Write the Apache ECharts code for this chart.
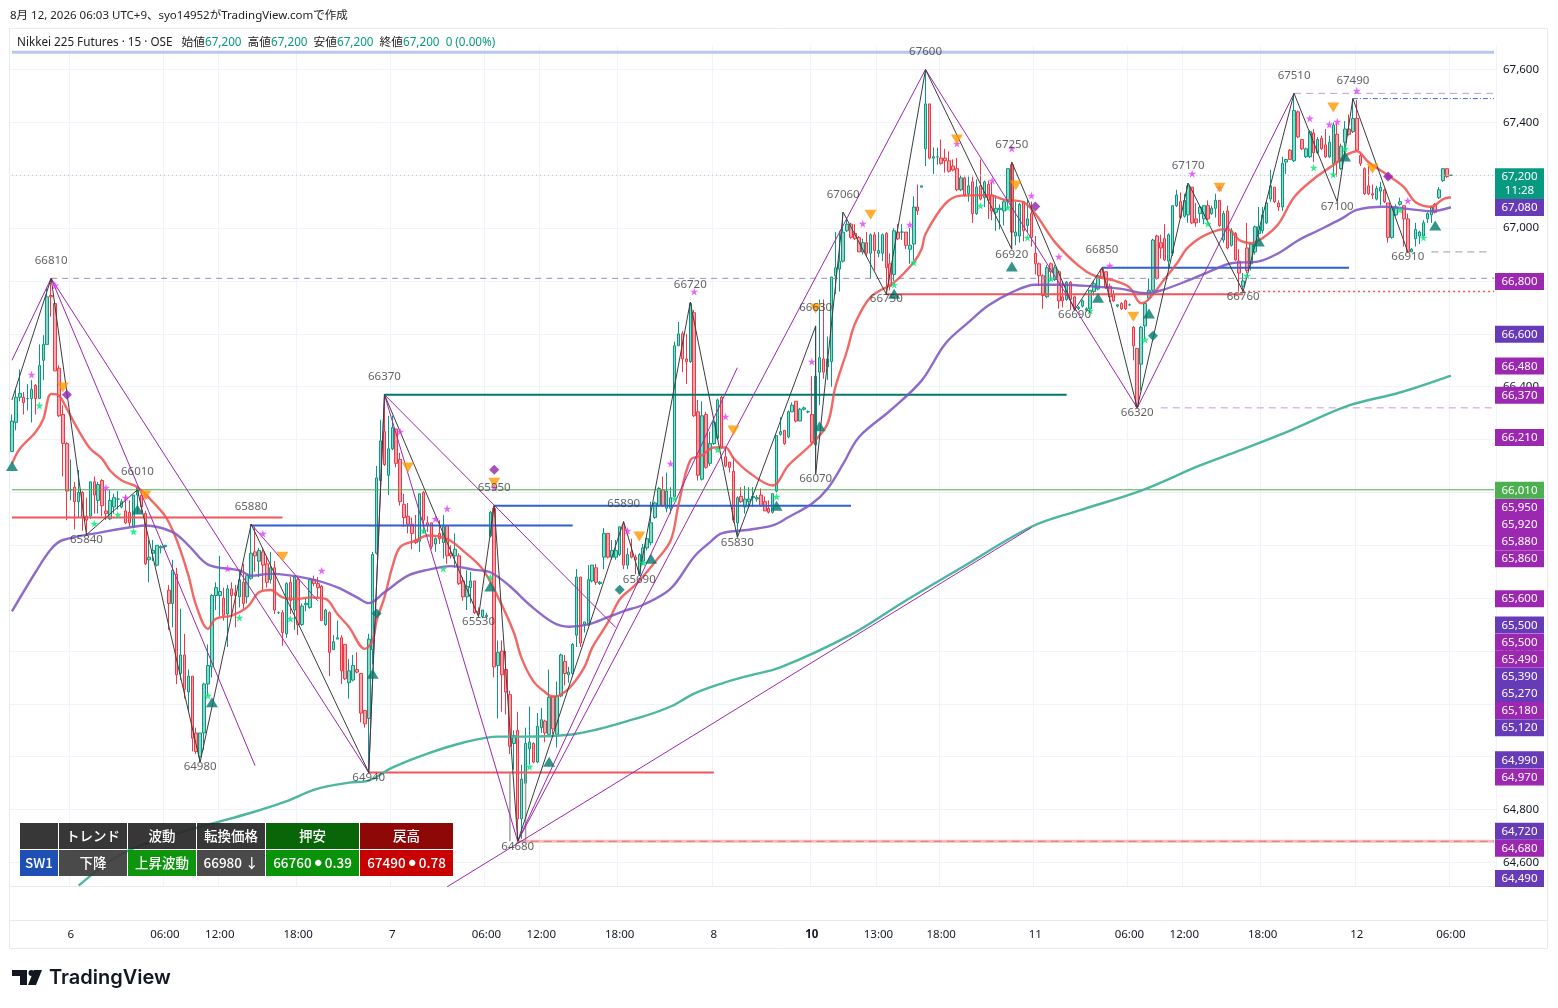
<!DOCTYPE html>
<html><head><meta charset="utf-8">
<style>html,body{margin:0;padding:0;background:#fff}#c{width:1558px;height:1008px}</style>
<script src="https://cdn.jsdelivr.net/npm/echarts@6/dist/echarts.min.js"></script>
</head><body><div id="c"></div>
<script>
// candles: [open, close, low, high]
const candlesDay6=[
[66155,66270,66155,66295],[66265,66360,66235,66390],[66360,66375,66345,66465],[66360,66340,66295,66380],[66355,66355,66310,66410],[66355,66390,66265,66425],[66405,66355,66295,66410],[66355,66480,66355,66560],[66500,66560,66425,66595],[66560,66740,66560,66775],
[66745,66740,66665,66810],[66715,66460,66460,66725],[66470,66290,66285,66480],[66295,66185,66060,66330],[66185,66005,65895,66190],[66010,66010,65970,66125],[66020,65965,65860,66040],[65965,66000,65905,66085],[66000,65905,65855,66005],[65910,65895,65840,65980],
[65910,66040,65900,66040],[66040,65990,65920,66060],[65970,66030,65920,66040],[66045,65950,65910,66050],[65930,65920,65895,66010],[65900,65970,65895,66010],[65945,65980,65920,65995],[65975,65975,65935,66005],[65945,65965,65940,65975],[65930,65885,65880,65990],
[65925,65885,65870,65970],[65870,65990,65870,65990],[65990,66020,65920,66025],[65990,65945,65920,66010],[65920,65730,65725,65930],[65745,65755,65660,65820],[65770,65780,65740,65820],[65725,65800,65720,65800],[65790,65795,65770,65800],[65795,65800,65785,65800],
[65630,65580,65480,65650],[65580,65705,65490,65745],[65690,65310,65275,65715],[65315,65385,65290,65560],[65385,65255,65220,65465],[65245,65305,65170,65330],[65305,65070,65020,65305],[65090,65020,65010,65110],[65000,65090,64980,65090],[65090,65275,65025,65280],
[65275,65345,65230,65425],[65340,65610,65300,65615],[65610,65640,65555,65660],[65610,65625,65530,65760],[65600,65535,65515,65640],[65540,65635,65415,65650],[65635,65610,65535,65660],[65620,65610,65490,65650],[65605,65670,65565,65705],[65660,65580,65560,65730],
[65605,65685,65580,65685],[65675,65770,65670,65880],[65775,65760,65700,65870],[65740,65780,65680,65790],[65775,65725,65630,65790],[65730,65660,65640,65755],[65670,65715,65655,65775],[65715,65555,65540,65740],[65545,65545,65540,65550],[65545,65470,65420,65555],
[65465,65655,65450,65660],[65660,65590,65540,65680],[65555,65680,65480,65685],[65670,65500,65460,65680],[65500,65570,65495,65580],[65575,65580,65550,65600],[65565,65670,65560,65675],[65670,65655,65645,65685],[65655,65640,65600,65680],[65645,65515,65515,65650],
[65500,65555,65495,65560],[65545,65395,65305,65550],[65405,65435,65405,65460],[65445,65450,65445,65515],[65450,65325,65275,65460],[65425,65295,65290,65425],[65280,65325,65220,65370],[65290,65345,65285,65385],[65330,65320,65315,65395],[65315,65165,65130,65315],
[65175,65125,65110,65175],[65145,65445,64940,65465],[65405,65765,65350,65775],[65770,66055,65765,66100],[66045,66195,65990,66275],[66230,66105,66100,66370],[66065,66165,65990,66290]];
const candlesDay7=[
[66165,66245,66160,66290],[66240,66110,66095,66240],[66125,65965,65950,66150],[65955,65905,65870,65995],[65910,65880,65845,65960],[65880,65845,65785,65905],[65820,65810,65805,65915],[65815,65995,65775,65995],[66000,65895,65845,66005],[65885,65875,65850,65910],
[65885,65795,65785,65885],[65805,65825,65775,65830],[65845,65825,65805,65895],[65810,65870,65750,65915],[65875,65760,65730,65875],[65770,65760,65750,65800],[65760,65785,65715,65845],[65760,65655,65650,65770],[65665,65605,65590,65680],[65605,65645,65555,65705],
[65640,65665,65580,65700],[65665,65545,65540,65665],[65550,65540,65530,65565],[65530,65555,65525,65555],[65530,65535,65525,65545],[65835,65925,65830,65930],[65940,65340,65300,65950],[65345,65395,65145,65440],[65400,65310,65170,65440],[65330,65245,65160,65400],
[65235,65040,65010,65250],[65050,65080,64950,65100],[65100,64765,64680,65170],[64765,64915,64690,64970],[64900,65050,64820,65110],[65030,65055,64970,65190],[65050,64980,64975,65055],[64980,65115,64975,65165],[65110,65140,65090,65185],[65135,65090,65055,65140],
[65085,65225,65075,65330],[65230,65105,65085,65230],[65085,65230,65035,65285],[65230,65385,65225,65390],[65360,65315,65270,65385],[65310,65320,65280,65340],[65315,65425,65310,65430],[65460,65680,65415,65710],[65680,65430,65415,65680],[65500,65510,65470,65510],
[65500,65670,65495,65725],[65665,65725,65660,65725],[65715,65660,65650,65730],[65655,65660,65650,65665],[65755,65845,65710,65865],[65845,65755,65750,65845],[65755,65780,65745,65820],[65755,65780,65745,65820],[65765,65870,65760,65870],[65880,65725,65710,65890],
[65725,65765,65710,65790],[65775,65755,65750,65825],[65755,65745,65690,65765],[65690,65765,65685,65770],[65740,65790,65730,65805],[65790,65825,65780,65830],[65810,65885,65800,65965],[65905,65960,65900,65965],[65950,66015,65945,66020],[66010,65950,65945,66060],
[65940,66005,65925,66075],[65940,65980,65920,66020],[65985,66555,65980,66570],[66555,66600,66555,66645],[66600,66505,66455,66610],[66505,66495,66410,66600],[66495,66715,66490,66720],[66680,66290,66285,66690],[66305,66065,66045,66350],[66050,66290,66045,66345],
[66295,66095,66090,66305],[66110,66185,66100,66230]];
const candlesDay8=[
[66185,66265,66180,66270],[66205,66350,66200,66355],[66360,66170,66165,66365],[66135,66100,66095,66170],[66115,66095,66075,66115],[66080,65895,65885,66135],[65885,65980,65830,65985],[65985,65965,65960,66020],[65945,65975,65920,66025],[65965,65975,65940,66020],
[65980,65985,65945,66020],[65975,65980,65965,65990],[65990,65950,65945,66015],[65965,65930,65930,65985],[65940,65925,65920,65970],[65925,65995,65920,65995],[66005,66215,66000,66215],[66220,66230,66215,66285],[66235,66185,66180,66235],[66210,66305,66205,66310],
[66305,66330,66305,66340],[66345,66270,66265,66345],[66270,66315,66270,66320],[66315,66320,66310,66325],[66305,66305,66300,66310]];
const candlesDay10=[
[66295,66190,66180,66440],[66180,66440,66070,66630],[66455,66510,66330,66730],[66505,66455,66430,66730],[66475,66505,66425,66590],[66495,66815,66400,66815],[66820,66850,66750,66985],[66845,66875,66760,66990],[66875,66985,66870,67060],[66990,67015,66985,67040],
[67015,66965,66960,67020],[66980,66960,66955,67015],[66965,66910,66910,66970],[66910,66945,66900,66960],[66945,66905,66890,66985],[66905,66975,66810,66980],[66975,66915,66840,66985],[66905,66915,66890,66985],[66905,66975,66875,66980],[66980,66850,66750,66985],
[66865,66780,66765,66905],[66825,66990,66800,67000],[66985,66960,66955,67015],[66985,66985,66955,67015],[66985,66935,66920,66985],[66920,66935,66865,67000],[66940,67080,66880,67120],[67080,67065,67050,67165],[67155,67160,67155,67160],[67300,67470,67235,67600],
[67470,67265,67260,67470],[67265,67270,67205,67305],[67270,67270,67240,67305],[67265,67245,67240,67335],[67265,67255,67210,67300],[67255,67215,67210,67290],[67235,67220,67215,67260],[67225,67145,67140,67265],[67145,67190,67140,67200],[67190,67125,67120,67195],
[67130,67160,67100,67195],[67175,67055,67020,67195],[67055,67155,67050,67185],[67160,67110,67105,67260],[67115,67175,67080,67180],[67165,67105,67035,67180],[67125,67065,67030,67175],[67060,67075,66990,67125],[67070,67075,66995,67090],[67065,67100,67010,67110],
[67100,67225,67075,67225],[67240,66985,66920,67245],[66970,66985,66935,67100],[66970,67090,66945,67095],[67100,66990,66950,67100],[67010,67035,66985,67110],[67055,66965,66930,67100]];
const candlesDay11=[
[66905,66865,66825,66970],[66865,66820,66780,66870],[66820,66745,66695,66825],[66740,66850,66735,66860],[66865,66835,66800,66870],[66805,66850,66800,66860],[66835,66725,66695,66840],[66740,66725,66700,66800],[66730,66795,66725,66800],[66795,66730,66690,66800],
[66740,66695,66690,66745],[66695,66700,66690,66705],[66705,66725,66700,66730],[66690,66695,66685,66700],[66695,66765,66690,66765],[66760,66790,66745,66800],[66770,66820,66765,66825],[66845,66815,66810,66850],[66835,66775,66770,66835],[66780,66740,66720,66790],
[66750,66725,66720,66765],[66705,66710,66700,66710],[66715,66695,66690,66720],[66725,66695,66690,66730],[66710,66710,66705,66715],[66625,66555,66500,66630],[66545,66325,66320,66545],[66485,66625,66385,66630],[66630,66715,66580,66720],[66735,66765,66725,66810],
[66765,66955,66760,66960],[66970,66810,66805,66975],[66945,66925,66885,66975],[66960,66880,66875,67015],[66875,66975,66850,66980],[66905,67085,66895,67085],[67085,67125,67080,67145],[67100,67040,67035,67135],[67045,67105,67040,67130],[67050,67160,67020,67170],
[67155,67020,67015,67155],[67035,67020,67005,67095],[67055,67080,67020,67085],[67035,67085,67015,67085],[67085,67035,67030,67105],[67055,67075,67050,67085],[67075,67105,67040,67130],[67105,67010,67005,67105],[66955,67055,66945,67065],[67065,66925,66920,67085],
[66935,66990,66930,67000],[66980,66880,66875,66985],[66875,66830,66760,66920],[66780,66800,66760,66830],[66925,66840,66830,67020],[66865,66940,66840,66945],[66910,67005,66900,67010],[66980,67005,66960,67080],[66990,67050,66980,67080],[67020,67095,67015,67100],
[67110,67160,67100,67220],[67155,67100,67095,67155],[67095,67080,67065,67105],[67080,67245,67065,67270],[67250,67260,67205,67260],[67295,67260,67260,67300],[67255,67445,67250,67510],[67440,67345,67340,67445],[67335,67300,67295,67335],[67270,67300,67265,67305],
[67270,67365,67265,67370],[67360,67285,67250,67375],[67285,67335,67280,67345],[67340,67300,67295,67350],[67315,67270,67265,67375],[67270,67325,67265,67350],[67245,67390,67195,67400],[67355,67250,67195,67395],[67225,67310,67220,67320],[67325,67375,67260,67405],
[67375,67355,67350,67430],[67365,67415,67360,67490]];
const candlesDay12=[
[67415,67295,67290,67485],[67275,67245,67235,67285],[67225,67130,67125,67230],[67160,67130,67125,67235],[67130,67125,67110,67165],[67110,67150,67105,67160],[67140,67155,67085,67175],[67145,67100,67095,67150],[67095,66965,66945,67095],[66965,67080,66960,67085],
[67050,67080,67045,67090],[67090,67100,67085,67115],[67085,67035,66930,67085],[67035,66910,66910,67055],[66910,66920,66910,66925],[66960,66995,66930,67020],[66970,66985,66940,66990],[66970,67020,66965,67030],[67035,67055,67020,67060],[67050,67080,67020,67085],
[67090,67060,67055,67095],[67115,67145,67110,67155],[67180,67225,67175,67225],[67225,67195,67190,67225],[67200,67200,67200,67200]];
const candles=[].concat(candlesDay6,candlesDay7,candlesDay8,candlesDay10,candlesDay11,candlesDay12);

const barSlots=379;
const xTickIdx=[15,39,53,73,97,121,135,155,179,204,221,237,261,285,299,319,343,367];
const xTickLabels=['6','06:00','12:00','18:00','7','06:00','12:00','18:00','8','10','13:00','18:00','11','06:00','12:00','18:00','12','06:00'];
const yTicks=[64600,64800,65000,65200,65400,65600,65800,66000,66200,66400,66600,66800,67000,67200,67400,67600];

const emaRed=[[0,66108],[2,66165],[6,66228],[8,66278],[10,66373],[12,66366],[14,66316],[17,66234],[20,66165],[23,66127],[25,66083],[28,66045],[32,66020],[36,65963],[39,65912],[41,65856],[43,65780],[45,65686],[47,65572],[50,65484],[52,65522],[56,65534],[60,65566],[63,65622],[66,65631],[69,65603],[73,65597],[76,65603],[80,65597],[83,65540],[86,65490],[90,65408],[92,65440],[93,65515],[95,65603],[97,65717],[99,65793],[103,65818],[106,65837],[111,65824],[115,65780],[120,65710],[124,65603],[128,65470],[130,65372],[133,65285],[136,65244],[138,65227],[142,65258],[146,65339],[148,65413],[152,65508],[155,65595],[159,65650],[164,65737],[168,65818],[170,65953],[173,66122],[176,66140],[179,66170],[182,66170],[184,66130],[188,66075],[194,66026],[198,66102],[204,66184],[208,66260],[210,66398],[213,66537],[215,66638],[219,66739],[225,66795],[230,66871],[232,66921],[233,66978],[238,67092],[242,67123],[249,67125],[253,67108],[258,67098],[261,67054],[266,66947],[272,66858],[276,66820],[281,66802],[285,66776],[288,66716],[290,66732],[294,66808],[297,66864],[300,66928],[305,66978],[310,66997],[313,66955],[316,66943],[319,66963],[323,67016],[327,67117],[332,67186],[338,67249],[340,67274],[343,67291],[346,67249],[351,67199],[355,67155],[358,67098],[362,67081],[365,67110],[367,67117]];
const emaPurple=[[0,65550],[6,65698],[10,65786],[13,65820],[23,65850],[31,65870],[34,65875],[41,65850],[45,65800],[50,65727],[58,65705],[61,65685],[66,65692],[76,65673],[83,65641],[88,65603],[91,65581],[95,65622],[101,65685],[106,65707],[112,65721],[118,65707],[122,65698],[127,65645],[132,65575],[138,65508],[142,65492],[147,65501],[152,65528],[156,65551],[161,65575],[168,65636],[174,65757],[178,65811],[181,65845],[188,65859],[194,65875],[198,65906],[204,65957],[208,66014],[212,66108],[216,66209],[224,66310],[232,66423],[238,66562],[244,66644],[249,66707],[255,66757],[261,66786],[268,66786],[276,66779],[283,66770],[289,66754],[293,66764],[300,66802],[305,66833],[311,66867],[318,66874],[323,66905],[328,66953],[333,66990],[339,67035],[343,67069],[350,67081],[356,67073],[362,67064],[367,67079]];
const emaTeal=[[17,64512],[28,64633],[42,64709],[51,64747],[61,64788],[69,64826],[78,64879],[86,64902],[91,64910],[97,64959],[106,65012],[115,65053],[124,65076],[130,65076],[144,65087],[160,65148],[168,65190],[174,65239],[181,65277],[188,65307],[196,65338],[214,65462],[227,65582],[242,65714],[260,65870],[272,65931],[288,66007],[303,66102],[313,66158],[326,66234],[341,66329],[354,66378],[367,66442]];

const zigStart=[0,66350];
const zigPivots=[[10,66810],[19,65840],[32,66010],[48,64980],[61,65880],[91,64940],[95,66370],[119,65530],[123,65950],[129,64680],[156,65890],[160,65690],[173,66720],[185,65830],[205,66630],[205,66070],[212,67060],[223,66750],[233,67600],[255,66920],[255,67250],[271,66690],[278,66850],[287,66320],[300,67170],[314,66760],[327,67510],[338,67100],[342,67490],[356,66910]];

const trendSegments=[
[[0,66500],[10,66810]],[[10,66810],[91,64940]],[[10,66810],[62,64966]],[[61,65880],[78,65590]],[[91,64940],[95,66370]],
[[95,66370],[129,64680]],[[95,66370],[154,65489]],[[129,64680],[185,66472]],[[129,64680],[233,67600]],[[111,64508],[260,65867]],
[[233,67600],[287,66320]],[[287,66320],[327,67510]]];
const solidLevels=[
{v:67665,a:0,b:378,c:'#b9c8f0',w:3},{v:66010,a:0,b:378,c:'#4caf50',w:1},{v:65905,a:0,b:69,c:'#f0555a',w:2},{v:65875,a:61,b:143,c:'#2f5fd0',w:2},
{v:66370,a:95,b:269,c:'#00796b',w:2},{v:65950,a:123,b:214,c:'#2f5fd0',w:2},{v:64940,a:91,b:179,c:'#f0555a',w:2},{v:64680,a:129,b:378,c:'rgba(239,83,80,.4)',w:3},
{v:66850,a:278,b:341,c:'#2f5fd0',w:2},{v:66750,a:223,b:314,c:'#f0555a',w:2}];
const dashedLevels=[
{v:66810,a:10,b:378,c:'#9b8fb5',t:[6,5],w:1},{v:67200,a:0,b:378,c:'#b8bcc6',t:[1,3],w:1},{v:66320,a:293,b:378,c:'#c79ad6',t:[7,5],w:1},{v:67510,a:327,b:378,c:'#c79ad6',t:[7,5],w:1},
{v:67490,a:342,b:378,c:'#3f6bc8',t:[5,2,1,2],w:1},{v:66910,a:362,b:377,c:'#9e9e9e',t:[7,5],w:1},{v:66760,a:314,b:378,c:'#ef5350',t:[2,3],w:1.5},{v:64680,a:129,b:378,c:'#e57373',t:[8,5],w:1}];
const grayBars=[[[127,64680],[127,64940]],[[131,64680],[131,64940]]];

const pinkStars=[[5,66446],[11,66783],[24,66018],[29,65980],[34,65988],[55,65712],[64,65844],[79,65704],[99,66230],[108,65900],[111,65939],[123,66018],[157,65855],[168,66109],[174,66760],[182,66287],[204,66495],[217,67017],[229,67013],[241,67320],[250,67180],[255,67301],[260,67123],[267,66892],[280,66858],[301,67206],[308,67153],[331,67415],[336,67392],[338,67403],[343,67520],[351,67195],[356,67104]];
const greenStars=[[7,66329],[21,65882],[27,65916],[31,65852],[50,65231],[58,65526],[71,65522],[105,65855],[110,65712],[122,65678],[132,64962],[161,65734],[169,65977],[180,66162],[195,65984],[225,66786],[230,66870],[247,67085],[254,67078],[259,66964],[265,66809],[275,66688],[289,66578],[305,67017],[315,66820],[332,67229],[337,67203],[340,67301],[354,67070],[360,66964]];
const upTriangles=[[0,66100],[32,65935],[51,65206],[92,65314],[122,65644],[137,64981],[163,65749],[195,65950],[206,66250],[225,66752],[255,66855],[277,66737],[290,66677],[318,66949],[340,67271],[363,67010]];
const downTriangles=[[13,66397],[34,65988],[69,65757],[101,66094],[123,66037],[160,65833],[184,66234],[205,66696],[219,67051],[241,67335],[256,67161],[286,66665],[308,67153],[337,67456],[347,67225]];
const purpleDiamonds=[[14,66370],[123,66086],[261,67082],[351,67195]];
const tealDiamonds=[[93,65542],[155,65632],[291,66593]];

const tagValues=[67200,67080,66800,66600,66480,66370,66210,66010,65950,65920,65880,65860,65600,65500,65500,65490,65390,65270,65180,65120,64990,64970,64720,64680,64490];
const tagKinds=['last','v','m','v','m','m','m','g','m','m','m','m','m','v','m','m','v','v','m','v','v','m','v','m','v'];
const tagColors={last:'#089981',v:'#673ab7',m:'#9c27b0',g:'#4caf50'};
const countdown='11:28';

const tableHead=['','トレンド','波動','転換価格','押安','戻高'];
const tableRow=['SW1','下降','上昇波動','66980 ↓','66760 {d|●} 0.39','67490 {d|●} 0.78'];

const FONT='"Noto Sans","Noto Sans CJK JP",sans-serif';
const CJK='"Noto Sans CJK JP",sans-serif';
const UP='#089981',DOWN='#f23645';
const STAR='path://M50 0L61 35 98 35 68 57 79 91 50 70 21 91 32 57 2 35 39 35Z';

const chart=echarts.init(document.getElementById('c'),null,{renderer:'canvas'});
const lineBase={type:'line',showSymbol:false,symbol:'none',silent:true,animation:false};
const series=[];
series.push({type:'candlestick',data:candles,barWidth:3,silent:true,z:3,animation:false,
  itemStyle:{color:'#8fd6c6',color0:'#f6a5ad',borderColor:UP,borderColor0:DOWN,borderColorDoji:UP,borderWidth:1}});
for(const l of solidLevels) series.push({...lineBase,z:4,data:[[l.a,l.v],[l.b,l.v]],lineStyle:{color:l.c,width:l.w}});
for(const l of dashedLevels) series.push({...lineBase,z:4,data:[[l.a,l.v],[l.b,l.v]],lineStyle:{color:l.c,width:l.w,type:l.t}});
for(const g of grayBars) series.push({...lineBase,z:4,data:g,lineStyle:{color:'#9e9e9e',width:1.5}});
series.push({...lineBase,z:5,smooth:.35,data:emaRed,lineStyle:{color:'#ef5350',width:2.4,opacity:.88}});
series.push({...lineBase,z:5,smooth:.35,data:emaPurple,lineStyle:{color:'#7e57c2',width:2.4,opacity:.88}});
series.push({...lineBase,z:5,smooth:.35,data:emaTeal,lineStyle:{color:'#4db6a0',width:2.4}});
for(const s of trendSegments) series.push({...lineBase,z:6,data:s,lineStyle:{color:'#9c27b0',width:1}});
series.push({...lineBase,z:6,data:[zigStart].concat(zigPivots),lineStyle:{color:'#3c3c3c',width:1}});
const mark=(data,symbol,size,color,z)=>({type:'scatter',data,symbol,symbolSize:size,silent:true,animation:false,z:z||7,itemStyle:{color}});
series.push(mark(pinkStars,STAR,8,'#e040fb'));
series.push(mark(greenStars,STAR,8,'#00e676'));
series.push(mark(upTriangles,'triangle',[12,10],'#00796b'));
series.push(mark(downTriangles.map(p=>({value:p,symbolRotate:180})),'triangle',[12,10],'#ff9800'));
series.push(mark(purpleDiamonds,'diamond',10,'#8e24aa'));
series.push(mark(tealDiamonds,'diamond',10,'#00796b'));
// pivot labels
series.push({type:'scatter',symbol:'circle',symbolSize:0.1,silent:true,animation:false,z:8,itemStyle:{color:'transparent'},
  data:zigPivots.map((p,k)=>{
    const prev=k?zigPivots[k-1][1]:zigStart[1];const high=p[1]>prev;
    return {value:p,label:{show:true,formatter:String(p[1]),position:high?'top':'inside',distance:12,offset:high?[0,0]:[0,5],
      fontFamily:FONT,fontSize:11.5,color:'#3a3a3a'}};
  })});
// price tags at the right edge
let tagY=null;
function computeTagY(api){
  const h=17.1,ys=tagValues.map(v=>api.coord([0,v])[1]);
  for(let k=1;k<ys.length;k++) ys[k]=Math.max(ys[k],ys[k-1]+h+(k===1?14:0));
  const maxY=878; if(ys[ys.length-1]>maxY) ys[ys.length-1]=maxY;
  return ys;
}
series.push({type:'custom',clip:false,silent:true,animation:false,z:20,
  data:tagValues.map((v,k)=>[k,v]),encode:{x:0,y:1},
  renderItem(params,api){
    if(!tagY||params.dataIndex===0) tagY=computeTagY(api);
    const k=params.dataIndex,y=tagY[k],left=1495,w=49,txt=tagValues[k].toLocaleString('en-US'),kind=tagKinds[k];
    const fill=tagColors[kind];
    const font='11.5px '+FONT;
    if(kind==='last'){
      return {type:'group',children:[
        {type:'rect',shape:{x:left,y:y-7,width:w,height:32},style:{fill}},
        {type:'text',style:{text:txt,x:left+w/2,y:y+1.5,align:'center',verticalAlign:'middle',fill:'#fff',font}},
        {type:'text',style:{text:countdown,x:left+w/2,y:y+15.5,align:'center',verticalAlign:'middle',fill:'#fff',font}}]};
    }
    return {type:'group',children:[
      {type:'rect',shape:{x:left,y:y-8,width:w,height:17},style:{fill}},
      {type:'text',style:{text:txt,x:left+w/2,y:y+1,align:'center',verticalAlign:'middle',fill:'#fff',font}}]};
  }});

// static page furniture
const g=[];
const frame='#e9eaee';
g.push({type:'rect',z:1,shape:{x:9.5,y:28.5,width:1538,height:920},style:{fill:'none',stroke:frame,lineWidth:1}});
g.push({type:'line',z:1,shape:{x1:10,y1:886.5,x2:1496,y2:886.5},style:{stroke:frame,lineWidth:1}});
g.push({type:'line',z:1,shape:{x1:10,y1:920.5,x2:1548,y2:920.5},style:{stroke:frame,lineWidth:1}});
g.push({type:'text',z:30,x:10,y:10,style:{text:'8月 12, 2026 06:03 UTC+9、syo14952がTradingView.comで作成',font:'11.5px '+FONT,fill:'#222'}});
g.push({type:'text',z:30,x:17,y:37,style:{
  text:'Nikkei 225 Futures · 15 · OSE   始値{g|67,200}  高値{g|67,200}  安値{g|67,200}  終値{g|67,200}  {g|0 (0.00%)}',
  font:'11.7px '+FONT,fill:'#222',rich:{g:{fill:'#089981',font:'11.7px '+FONT}}}});
// table
const colX=[20,59,128,197,266,360],colW=[38,68,68,68,93,93];
const headFill=['rgba(40,40,40,.93)','rgba(40,40,40,.93)','rgba(40,40,40,.93)','rgba(40,40,40,.93)','rgba(0,96,0,.97)','rgba(139,0,0,.97)'];
const rowFill=['#1e4fb5','rgba(60,60,60,.93)','rgba(0,144,0,.95)','rgba(60,60,60,.93)','rgba(0,144,0,.97)','#c80000'];
for(let c=0;c<6;c++){
  g.push({type:'rect',z:25,shape:{x:colX[c],y:823,width:colW[c],height:26},style:{fill:headFill[c]}});
  g.push({type:'rect',z:25,shape:{x:colX[c],y:850,width:colW[c],height:26},style:{fill:rowFill[c]}});
  g.push({type:'text',z:26,x:colX[c]+colW[c]/2,y:835.5,style:{text:tableHead[c],fill:'#fff',font:'500 13.5px '+CJK,align:'center',verticalAlign:'middle'}});
  g.push({type:'text',z:26,x:colX[c]+colW[c]/2,y:862.5,style:{text:tableRow[c],fill:'#fff',font:'500 13.5px '+CJK,align:'center',verticalAlign:'middle',rich:{d:{fill:'#fff',font:'7px '+CJK}}}});
}
// logo
g.push({type:'polygon',z:30,shape:{points:[[12,970],[27,970],[27,985],[20,985],[20,976],[12,976]]},style:{fill:'#131722'}});
g.push({type:'circle',z:30,shape:{cx:31.5,cy:973,r:3},style:{fill:'#131722'}});
g.push({type:'polygon',z:30,shape:{points:[[34,970],[42,970],[36,985],[28,985]]},style:{fill:'#131722'}});
g.push({type:'text',z:30,x:49,y:968,style:{text:'TradingView',font:'600 20px Inter,sans-serif',fill:'#131722'}});

chart.setOption({
  animation:false,backgroundColor:'#fff',
  grid:{left:10,top:45.5,width:1486,height:841,containLabel:false},
  xAxis:{type:'category',boundaryGap:true,data:Array.from({length:barSlots},(_,i)=>String(i)),
    axisLine:{show:false},axisTick:{show:false},
    splitLine:{show:true,interval:(i)=>xTickIdx.includes(i),lineStyle:{color:'#f0f3fa',width:1}},
    axisLabel:{interval:(i)=>xTickIdx.includes(i),margin:42,fontFamily:FONT,fontSize:11.5,color:'#131722',
      formatter:(v)=>{const k=xTickIdx.indexOf(+v);const t=xTickLabels[k];return t==='10'?'{b|10}':t;},rich:{b:{fontWeight:'bold',fontFamily:FONT,fontSize:11.5,color:'#131722'}}}},
  yAxis:{type:'value',position:'right',min:64509,max:67691,scale:true,
    axisLine:{show:false},axisTick:{show:false,customValues:yTicks},
    splitLine:{show:true,lineStyle:{color:'#f0f3fa',width:1}},
    axisLabel:{customValues:yTicks,margin:7,fontFamily:FONT,fontSize:11.5,color:'#131722',align:'left',formatter:(v)=>v.toLocaleString('en-US')}},
  series,graphic:{elements:g}
});
</script></body></html>
